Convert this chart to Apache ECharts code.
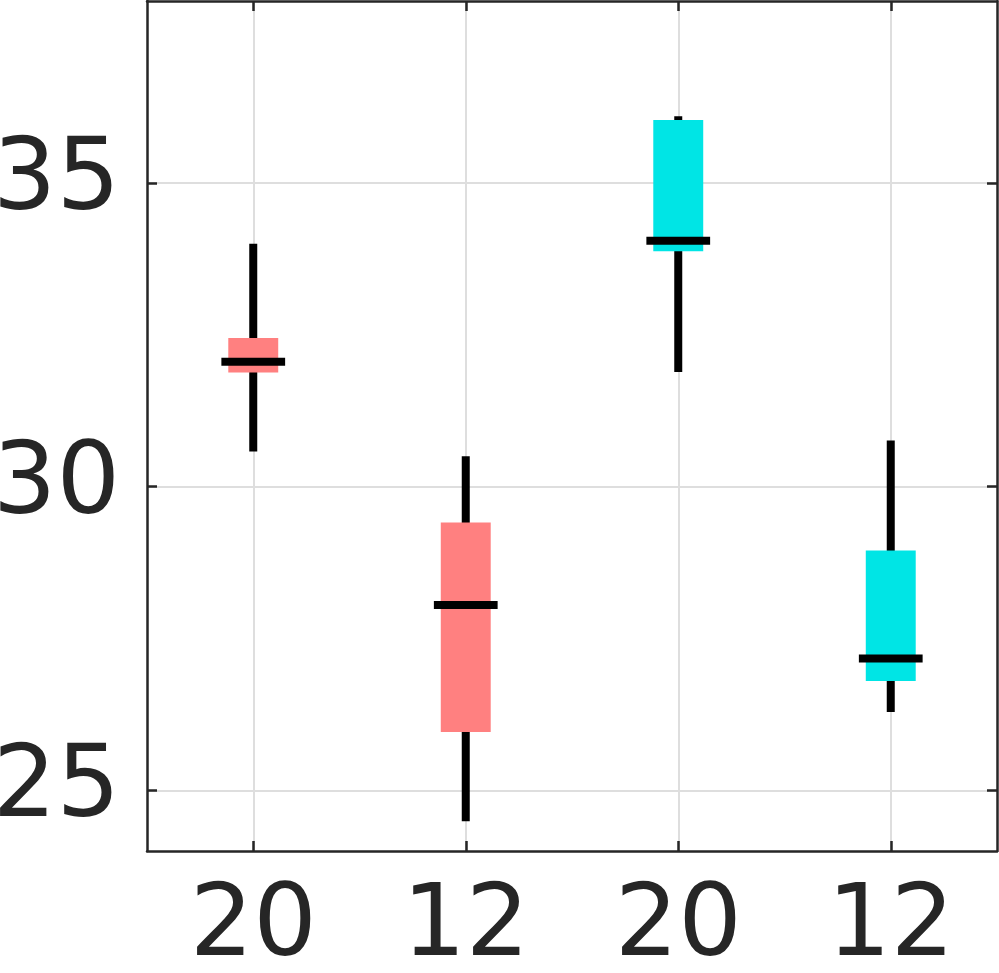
<!DOCTYPE html>
<html>
<head>
<meta charset="utf-8">
<style>
html,body{margin:0;padding:0;background:#fff;}
#chart{width:999px;height:973px;}
</style>
<script src="https://cdn.jsdelivr.net/npm/echarts@6/dist/echarts.min.js"></script>
</head>
<body>
<div id="chart"></div>
<script>
// Data
var categories = ['20', '12', '20', '12'];
var whiskerLow  = [30.58, 24.49, 31.89, 26.29];
var boxLow      = [31.88, 25.96, 33.88, 26.80];
var medians     = [32.06, 28.05, 34.05, 27.17];
var boxHigh     = [32.45, 29.41, 36.04, 28.95];
var whiskerHigh = [34.00, 30.50, 36.10, 30.76];
var groupColor  = [0, 0, 1, 1];
var yTicks = [25, 30, 35];

var palette = ['#ff8080', '#00e5e5'];
var frameColor = '#262626';

var seriesData = categories.map(function (c, i) {
  return [i + 1, whiskerLow[i], boxLow[i], medians[i], boxHigh[i], whiskerHigh[i], groupColor[i]];
});
var xPositions = categories.map(function (c, i) { return i + 1; });

function renderItem(params, api) {
  var x = api.value(0);
  var pLow = api.coord([x, api.value(1)]);
  var pQ1 = api.coord([x, api.value(2)]);
  var pMed = api.coord([x, api.value(3)]);
  var pQ3 = api.coord([x, api.value(4)]);
  var pHigh = api.coord([x, api.value(5)]);
  var band = api.size([1, 0])[0];
  var boxW = band * 0.235;
  var medW = band * 0.30;
  var col = palette[api.value(6)];
  return {
    type: 'group',
    children: [
      {
        type: 'line',
        shape: { x1: pLow[0], y1: pLow[1], x2: pHigh[0], y2: pHigh[1] },
        style: { stroke: '#000', lineWidth: 8 }
      },
      {
        type: 'rect',
        shape: { x: pQ1[0] - boxW / 2, y: pQ3[1], width: boxW, height: pQ1[1] - pQ3[1] },
        style: { fill: col }
      },
      {
        type: 'line',
        shape: { x1: pMed[0] - medW / 2, y1: pMed[1], x2: pMed[0] + medW / 2, y2: pMed[1] },
        style: { stroke: '#000', lineWidth: 8 }
      }
    ]
  };
}

var labelFont = { fontFamily: 'DejaVu Sans', fontSize: 100, color: '#262626' };

function xAxisCfg(pos, showLabel) {
  return {
    type: 'value',
    position: pos,
    min: 0.5,
    max: 4.5,
    axisLine: { show: true, onZero: false, lineStyle: { color: frameColor, width: 2.5 } },
    axisTick: { show: true, inside: true, length: 10, customValues: xPositions, lineStyle: { color: frameColor, width: 2.5 } },
    axisLabel: Object.assign({
      show: showLabel,
      margin: 28,
      customValues: xPositions,
      formatter: function (v) { return categories[Math.round(v) - 1]; }
    }, labelFont),
    splitLine: { show: showLabel, lineStyle: { color: '#dedede', width: 2 } }
  };
}
function yAxisCfg(pos, showLabel) {
  return {
    type: 'value',
    position: pos,
    min: 24,
    max: 38,
    axisLine: { show: true, onZero: false, lineStyle: { color: frameColor, width: 2.5 } },
    axisTick: { show: true, inside: true, length: 10, customValues: yTicks, lineStyle: { color: frameColor, width: 2.5 } },
    axisLabel: Object.assign({
      show: showLabel,
      margin: 27,
      customValues: yTicks
    }, labelFont),
    splitLine: { show: showLabel, lineStyle: { color: '#dedede', width: 2 } }
  };
}

var chart = echarts.init(document.getElementById('chart'), null, { renderer: 'canvas' });
chart.setOption({
  animation: false,
  backgroundColor: '#ffffff',
  grid: { left: 147, right: 2, top: 1, bottom: 122, containLabel: false, outerBoundsMode: 'none' },
  xAxis: [xAxisCfg('bottom', true), xAxisCfg('top', false)],
  yAxis: [yAxisCfg('left', true), yAxisCfg('right', false)],
  series: [{
    type: 'custom',
    renderItem: renderItem,
    encode: { x: 0, y: [1, 2, 3, 4, 5] },
    data: seriesData,
    clip: false,
    z: 10
  }]
});
</script>
</body>
</html>
